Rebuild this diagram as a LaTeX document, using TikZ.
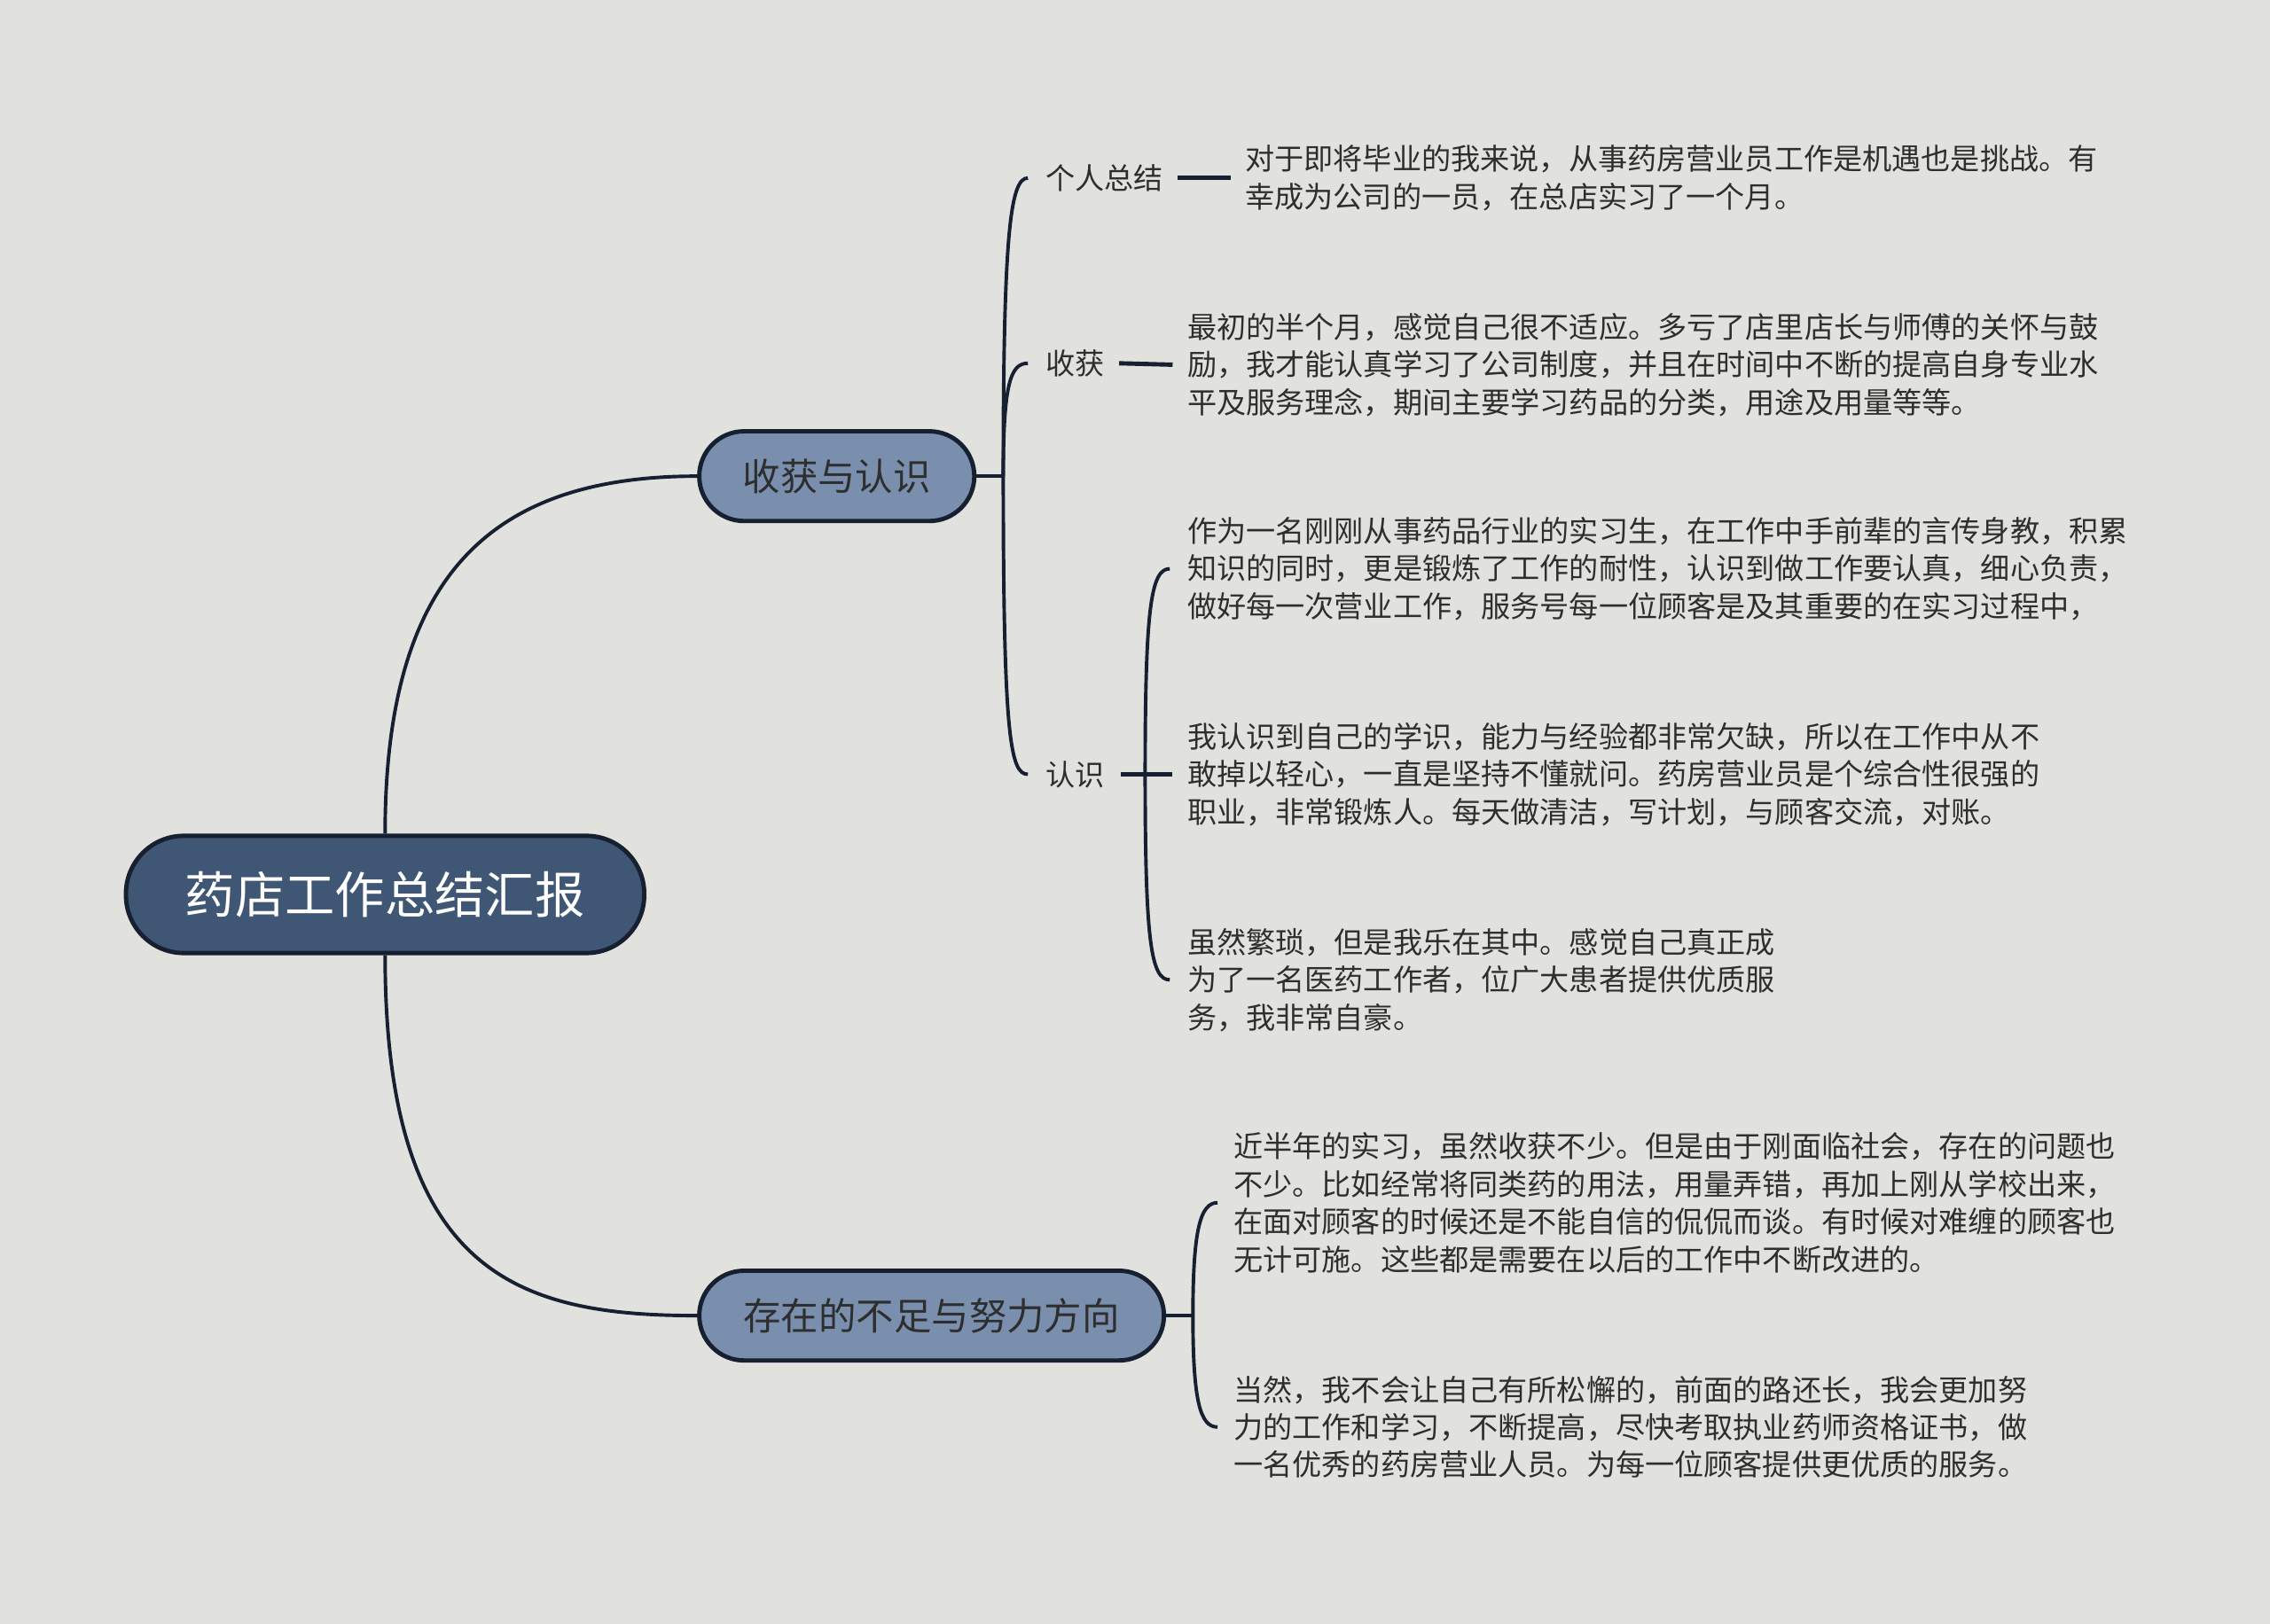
\documentclass[tikz,border=0pt]{standalone}
\usepackage{fontspec}
\newfontfamily\cjk{Noto Sans CJK SC}
\definecolor{bgcol}{HTML}{E1E2DD}
\definecolor{rootcol}{HTML}{3F5674}
\definecolor{maincol}{HTML}{7A8FAD}
\definecolor{linecol}{HTML}{172030}
\definecolor{txtcol}{HTML}{2E2E2E}
\tikzset{
  rootbox/.style={draw=linecol, line width=3pt, fill=rootcol, text=white, rounded corners=40pt,
    minimum width=358pt, minimum height=81pt, inner sep=0pt, font=\cjk\fontsize{34.5}{40}\selectfont},
  mainbox/.style={draw=linecol, line width=3pt, fill=maincol, text=txtcol, rounded corners=31pt,
    minimum height=62pt, inner sep=0pt, font=\cjk\fontsize{26}{30}\selectfont},
  leaf/.style={anchor=west, inner sep=0pt, text=txtcol, font=\cjk\fontsize{20.3}{26}\selectfont},
  note/.style={leaf, align=left},
  link/.style={draw=linecol, line width=2.4pt},
  tie/.style={draw=linecol, line width=3pt},
}
\begin{document}
\begin{tikzpicture}[x=1pt, y=-1pt]
    \fill[bgcol] (0,0) rectangle (1568,1122);
    \useasboundingbox (0,0) rectangle (1568,1122);
    % main nodes
    \node[rootbox] (root) at (266,618) {药店工作总结汇报};
    \node[mainbox, minimum width=190pt] (gain) at (578,329) {收获与认识};
    \node[mainbox, minimum width=321pt] (lack) at (643.5,909) {存在的不足与努力方向};
    \draw[link] (root.north) .. controls +(0,-178) and +(-143,0) .. (gain.west);
    \draw[link] (root.south) .. controls +(0,221) and +(-123,0) .. (lack.west);
    % first branch
    \node[leaf] (sum) at (722,123) {个人总结};
    \node[leaf] (harvest) at (722,251) {收获};
    \node[leaf] (know) at (722,535) {认识};
    \coordinate (j1) at (693,329);
    \draw[link] (gain.east) -- (j1);
    \draw[link] (j1) .. controls (693,160) and (698,123) .. ([xshift=-12pt]sum.west);
    \draw[link] (j1) .. controls (693,265) and (698,251) .. ([xshift=-12pt]harvest.west);
    \draw[link] (j1) .. controls (693,510) and (698,535) .. ([xshift=-12pt]know.west);
    \node[note] (sumtxt) at (860,123) {对于即将毕业的我来说，从事药房营业员工作是机遇也是挑战。有\\幸成为公司的一员，在总店实习了一个月。};
    \node[note] (harvtxt) at (820,252) {最初的半个月，感觉自己很不适应。多亏了店里店长与师傅的关怀与鼓\\励，我才能认真学习了公司制度，并且在时间中不断的提高自身专业水\\平及服务理念，期间主要学习药品的分类，用途及用量等等。};
    \draw[tie] ([xshift=10pt]sum.east) -- ([xshift=-10pt]sumtxt.west);
    \draw[tie] ([xshift=10pt]harvest.east) -- ([xshift=-10pt]harvtxt.west);
    % know
    \node[note] (know1) at (820,393) {作为一名刚刚从事药品行业的实习生，在工作中手前辈的言传身教，积累\\知识的同时，更是锻炼了工作的耐性，认识到做工作要认真，细心负责，\\做好每一次营业工作，服务号每一位顾客是及其重要的在实习过程中，};
    \node[note] (know2) at (820,535) {我认识到自己的学识，能力与经验都非常欠缺，所以在工作中从不\\敢掉以轻心，一直是坚持不懂就问。药房营业员是个综合性很强的\\职业，非常锻炼人。每天做清洁，写计划，与顾客交流，对账。};
    \node[note] (know3) at (820,677) {虽然繁琐，但是我乐在其中。感觉自己真正成\\为了一名医药工作者，位广大患者提供优质服\\务，我非常自豪。};
    \coordinate (j3) at (791,535);
    \draw[tie] ([xshift=11pt]know.east) -- ([xshift=-10pt]know2.west);
    \draw[link] (j3) .. controls (791,420) and (795,393) .. ([xshift=-12pt]know1.west);
    \draw[link] (j3) .. controls (791,650) and (795,677) .. ([xshift=-12pt]know3.west);
    % second branch
    \node[note] (lack1) at (852,831) {近半年的实习，虽然收获不少。但是由于刚面临社会，存在的问题也\\不少。比如经常将同类药的用法，用量弄错，再加上刚从学校出来，\\在面对顾客的时候还是不能自信的侃侃而谈。有时候对难缠的顾客也\\无计可施。这些都是需要在以后的工作中不断改进的。};
    \node[note] (lack2) at (852,986) {当然，我不会让自己有所松懈的，前面的路还长，我会更加努\\力的工作和学习，不断提高，尽快考取执业药师资格证书，做\\一名优秀的药房营业人员。为每一位顾客提供更优质的服务。};
    \coordinate (j2) at (824,909);
    \draw[link] (lack.east) -- (j2);
    \draw[link] (j2) .. controls (824,850) and (829,831) .. ([xshift=-11pt]lack1.west);
    \draw[link] (j2) .. controls (824,968) and (829,986) .. ([xshift=-11pt]lack2.west);
\end{tikzpicture}
\end{document}
